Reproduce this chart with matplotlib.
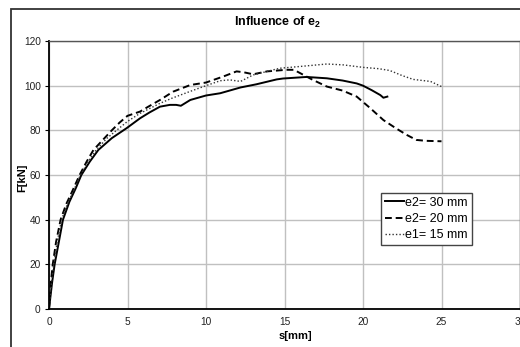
import matplotlib
matplotlib.use("Agg")
import matplotlib.pyplot as plt
from matplotlib.patches import Rectangle

plt.rcParams['font.family'] = ['Liberation Sans', 'DejaVu Sans']
plt.rcParams['mathtext.fontset'] = 'custom'
plt.rcParams['mathtext.rm'] = 'Liberation Sans'
plt.rcParams['mathtext.bf'] = 'Liberation Sans:bold'

# e2 = 30 mm (solid)
s_30 = [0, 0.1, 0.2, 0.36, 0.6, 0.89, 1.3, 1.7, 2.06, 2.6, 3.14, 4.0, 4.95, 5.8, 6.4,
        7.07, 7.7, 8.1, 8.4, 9.0, 10.0, 10.9, 12.2, 13.2, 14.5, 14.9, 16.4, 17.7, 18.7,
        19.6, 20.0, 20.55, 21.1, 21.3, 21.55]
F_30 = [0, 6, 12, 20, 29, 40, 48, 54, 60, 66, 71.2, 76.5, 81, 85.4, 88, 90.6, 91.4, 91.4,
        91.0, 93.6, 95.6, 96.6, 99.2, 100.6, 102.8, 103.2, 103.9, 103.3, 102.3, 101, 100,
        98, 95.8, 94.6, 95.1]

# e2 = 20 mm (dashed)
s_20 = [0, 0.05, 0.12, 0.24, 0.45, 0.74, 1.1, 1.5, 1.95, 2.4, 2.83, 3.4, 4.0, 4.5, 5.0,
        5.8, 6.3, 7.07, 7.9, 9.0, 10.0, 11.1, 11.95, 12.4, 13.0, 13.9, 15.1, 15.6, 16.0,
        16.8, 17.7, 18.7, 19.6, 20.45, 21.3, 22.1, 22.8, 23.4, 24.0, 25.0]
F_20 = [0, 5, 12, 20, 30, 40, 47, 53, 60, 66, 71.2, 75.5, 80, 83.5, 86.5, 88.4, 90.5,
        93.6, 97.3, 100.3, 101.4, 104.1, 106.4, 106, 105.1, 106.4, 107.1, 107.1, 105.6,
        102.6, 99.6, 97.8, 95.1, 90, 84.6, 80.9, 77.9, 75.7, 75.3, 75.1]

# e1 = 15 mm (dotted)
s_15 = [0, 0.08, 0.16, 0.3, 0.52, 0.8, 1.2, 1.6, 2.0, 2.5, 3.0, 3.7, 4.3, 5.0, 5.8, 7.07,
        7.8, 8.9, 10.0, 10.9, 11.5, 12.2, 13.0, 13.9, 14.7, 16.0, 17.7, 18.75, 20.0, 21.0,
        21.7, 22.5, 23.2, 24.3, 25.0]
F_15 = [0, 6, 12, 20, 30, 40, 47.5, 53.5, 60, 66, 71.2, 76.5, 80, 84, 87.6, 92.1, 94.3,
        97.2, 100, 102.2, 102.6, 101.9, 104.8, 106.4, 107.8, 108.6, 109.7, 109.3, 108.2,
        107.6, 106.8, 104.5, 102.8, 101.9, 99.6]

labels = ["e2= 30 mm", "e2= 20 mm", "e1= 15 mm"]
x_ticks = [0, 5, 10, 15, 20, 25, 30]
y_ticks = [0, 20, 40, 60, 80, 100, 120]

W, H = 520, 347
fig = plt.figure(figsize=(W / 100, H / 100), dpi=100)
fig.patch.set_facecolor('white')

# outer chart frame (clipped at right/bottom)
fig.patches.append(Rectangle((11 / W, -0.1), 1.2, 1 - 9 / H + 0.1, transform=fig.transFigure,
                             fill=False, lw=1.3, ec='#333333', clip_on=False))

ax = fig.add_axes([49 / W, 1 - 309 / H, (520 - 49) / W, (309 - 41) / H])
ax.plot(s_30, F_30, color='black', lw=1.4, ls='-', label=labels[0])
ax.plot(s_20, F_20, color='black', lw=1.4, ls=(0, (3.5, 2)), label=labels[1])
ax.plot(s_15, F_15, color='#333333', lw=1.0, ls=(0, (1, 1.5)), label=labels[2])

ax.set_xlim(0, 30)
ax.set_ylim(0, 120)
ax.set_xticks(x_ticks)
ax.set_yticks(y_ticks)
ax.grid(True, color='#c0c0c0', lw=1.0)
ax.set_axisbelow(True)
ax.tick_params(axis='x', length=0, pad=6, labelsize=7.3, labelcolor='#222222')
ax.tick_params(axis='y', length=3, pad=3, labelsize=7.3, direction='out', labelcolor='#222222')
for sp in ['left', 'bottom']:
    ax.spines[sp].set_color('black')
    ax.spines[sp].set_linewidth(1.3)
for sp in ['top', 'right']:
    ax.spines[sp].set_color('#555555')
    ax.spines[sp].set_linewidth(1.0)

fig.text(278 / W, 1 - 22 / H, r"Influence of e$_\mathbf{2}$", ha='center', va='center',
         fontsize=9, fontweight='bold')
fig.text(295 / W, 1 - 336 / H, "s[mm]", ha='center', va='center', fontsize=8, fontweight='bold')
fig.text(22 / W, 1 - 178 / H, "F[kN]", ha='center', va='center', fontsize=8, fontweight='bold',
         rotation=90)

leg = ax.legend(loc='upper left', bbox_to_anchor=(381 / W, 1 - 193 / H),
                bbox_transform=fig.transFigure, borderaxespad=0, fontsize=9,
                handlelength=1.5, handletextpad=0.15, labelspacing=0.35, borderpad=0.3,
                fancybox=False, framealpha=1, edgecolor='#444444')
leg.get_frame().set_linewidth(1.0)

fig.savefig("out.png", dpi=100)
